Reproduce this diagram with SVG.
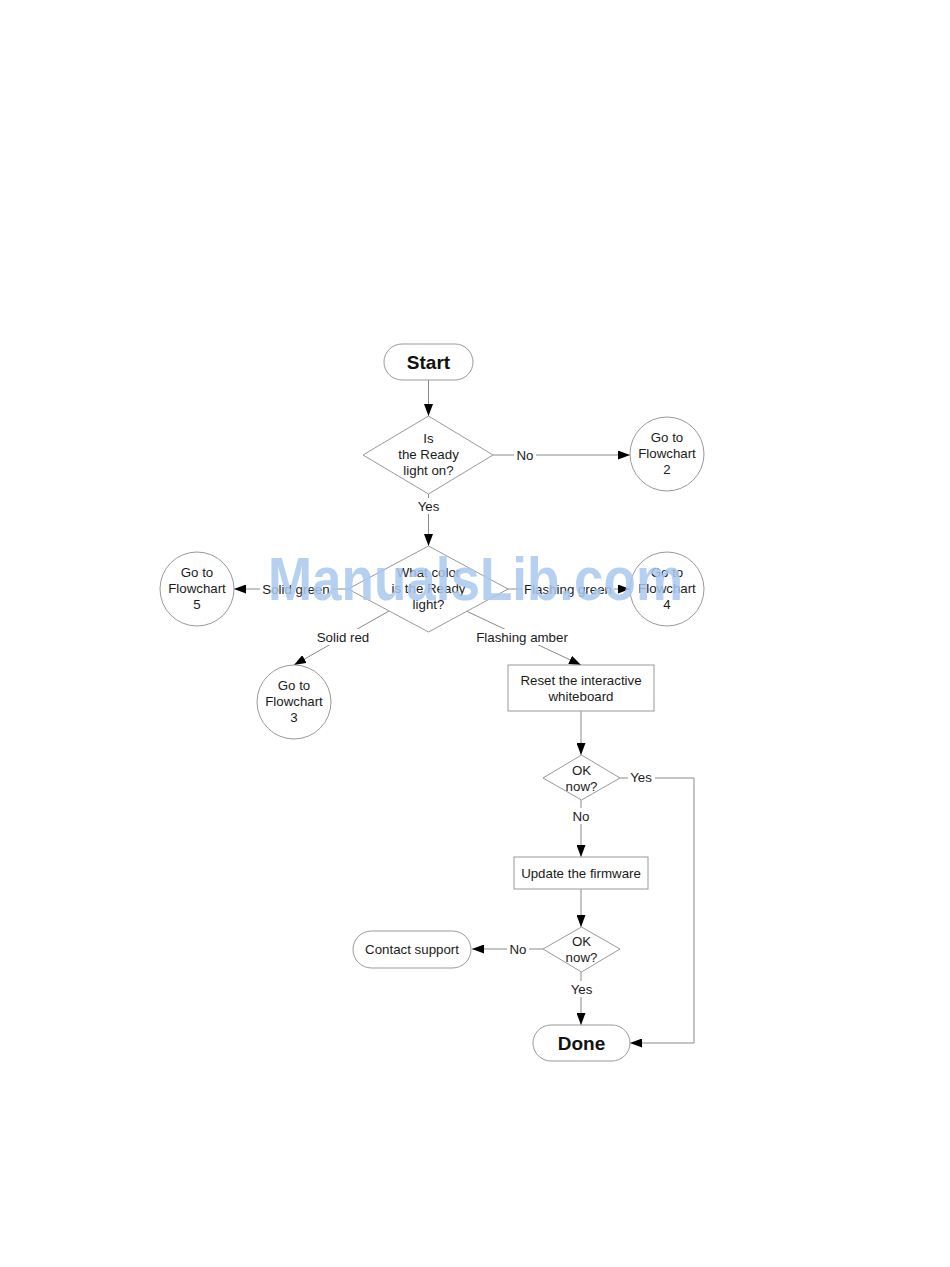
<svg xmlns="http://www.w3.org/2000/svg" width="950" height="1267" viewBox="0 0 950 1267">
<style>
.shape{fill:#fff;stroke:#999;stroke-width:1}
.conn{fill:none;stroke:#8a8a8a;stroke-width:1}
.t{font-family:"Liberation Sans",Arial,sans-serif;font-size:13.3px;fill:#1a1a1a;text-anchor:middle}
.b{font-family:"Liberation Sans",Arial,sans-serif;font-size:19px;font-weight:bold;fill:#111;text-anchor:middle}
.lbg{fill:#fff}
.wm{font-family:"Liberation Sans",Arial,sans-serif;font-size:62px;font-weight:bold;fill:#a9c8f0;fill-opacity:0.85}
</style>
<defs>
<marker id="ah" markerUnits="userSpaceOnUse" markerWidth="12" markerHeight="9" refX="12" refY="4.5" orient="auto">
<path d="M0,0 L12,4.5 L0,9 z" fill="#000"/>
</marker>
</defs>
<rect width="950" height="1267" fill="#fff"/>
<g id="connectors">
<line class="conn" x1="428.5" y1="380" x2="428.5" y2="416" marker-end="url(#ah)"/>
<line class="conn" x1="493" y1="455" x2="630" y2="455" marker-end="url(#ah)"/>
<line class="conn" x1="428.5" y1="494" x2="428.5" y2="546" marker-end="url(#ah)"/>
<line class="conn" x1="348" y1="589" x2="234" y2="589" marker-end="url(#ah)"/>
<line class="conn" x1="508" y1="589" x2="630" y2="589" marker-end="url(#ah)"/>
<line class="conn" x1="389" y1="611" x2="294" y2="665" marker-end="url(#ah)"/>
<line class="conn" x1="464" y1="610" x2="581" y2="665" marker-end="url(#ah)"/>
<line class="conn" x1="581" y1="711" x2="581" y2="755" marker-end="url(#ah)"/>
<polyline class="conn" points="620,778 694,778 694,1043 630,1043" marker-end="url(#ah)"/>
<line class="conn" x1="581" y1="800" x2="581" y2="857" marker-end="url(#ah)"/>
<line class="conn" x1="581" y1="889" x2="581" y2="927" marker-end="url(#ah)"/>
<line class="conn" x1="543" y1="949" x2="472" y2="949" marker-end="url(#ah)"/>
<line class="conn" x1="581" y1="972" x2="581" y2="1025" marker-end="url(#ah)"/>
<rect class="lbg" x="514" y="447" width="22" height="16"/>
<text class="t" x="525" y="459.5">No</text>
<rect class="lbg" x="415" y="498" width="27" height="16"/>
<text class="t" x="428.5" y="510.5">Yes</text>
<rect class="lbg" x="260" y="581" width="72" height="16"/>
<text class="t" x="296" y="593.5">Solid green</text>
<rect class="lbg" x="522" y="581" width="92" height="16"/>
<text class="t" x="568" y="593.5">Flashing green</text>
<rect class="lbg" x="315" y="629" width="56" height="16"/>
<text class="t" x="343" y="641.5">Solid red</text>
<rect class="lbg" x="474" y="629" width="96" height="16"/>
<text class="t" x="522" y="641.5">Flashing amber</text>
<rect class="lbg" x="628" y="770" width="27" height="16"/>
<text class="t" x="641" y="781.5">Yes</text>
<rect class="lbg" x="570" y="808" width="22" height="16"/>
<text class="t" x="581" y="820.5">No</text>
<rect class="lbg" x="507" y="941" width="22" height="16"/>
<text class="t" x="518" y="953.5">No</text>
<rect class="lbg" x="568" y="981" width="27" height="16"/>
<text class="t" x="581.5" y="993.5">Yes</text>
</g>
<g id="start">
<rect class="shape" x="384" y="344" width="89" height="36" rx="18" ry="18"/>
<text class="b" x="428.5" y="368.5">Start</text>
</g>
<g id="ready-on">
<polygon class="shape" points="428.5,416 493,455 428.5,494 363,455"/>
<text class="t" x="428.5" y="442.5">Is</text>
<text class="t" x="428.5" y="458.5">the Ready</text>
<text class="t" x="428.5" y="474.5">light on?</text>
</g>
<g id="flowchart2">
<circle class="shape" cx="667" cy="454" r="37"/>
<text class="t" x="667" y="442">Go to</text>
<text class="t" x="667" y="458">Flowchart</text>
<text class="t" x="667" y="474">2</text>
</g>
<g id="what-color">
<polygon class="shape" points="428.5,546 508,589 428.5,632 348,589"/>
<text class="t" x="428.5" y="576.5">What color</text>
<text class="t" x="428.5" y="592.5">is the Ready</text>
<text class="t" x="428.5" y="608.5">light?</text>
</g>
<g id="flowchart5">
<circle class="shape" cx="197" cy="589" r="37"/>
<text class="t" x="197" y="577">Go to</text>
<text class="t" x="197" y="593">Flowchart</text>
<text class="t" x="197" y="609">5</text>
</g>
<g id="flowchart4">
<circle class="shape" cx="667" cy="589" r="37"/>
<text class="t" x="667" y="577">Go to</text>
<text class="t" x="667" y="593">Flowchart</text>
<text class="t" x="667" y="609">4</text>
</g>
<g id="flowchart3">
<circle class="shape" cx="294" cy="702" r="37"/>
<text class="t" x="294" y="690">Go to</text>
<text class="t" x="294" y="706">Flowchart</text>
<text class="t" x="294" y="722">3</text>
</g>
<g id="reset">
<rect class="shape" x="508" y="665" width="146" height="46"/>
<text class="t" x="581" y="684.5">Reset the interactive</text>
<text class="t" x="581" y="700.5">whiteboard</text>
</g>
<g id="ok1">
<polygon class="shape" points="581.5,755 620,778 581.5,800 543,778"/>
<text class="t" x="581.5" y="774.5">OK</text>
<text class="t" x="581.5" y="790.5">now?</text>
</g>
<g id="update">
<rect class="shape" x="514" y="857" width="134" height="32"/>
<text class="t" x="581" y="877.5">Update the firmware</text>
</g>
<g id="ok2">
<polygon class="shape" points="581.5,927 620,949 581.5,972 543,949"/>
<text class="t" x="581.5" y="945.5">OK</text>
<text class="t" x="581.5" y="961.5">now?</text>
</g>
<g id="contact">
<rect class="shape" x="353" y="931" width="118" height="37" rx="18.5" ry="18.5"/>
<text class="t" x="412" y="953.5">Contact support</text>
</g>
<g id="done">
<rect class="shape" x="533" y="1025" width="97" height="36" rx="18" ry="18"/>
<text class="b" x="581.5" y="1049.5">Done</text>
</g>
<text class="wm" x="268" y="600" textLength="415" lengthAdjust="spacingAndGlyphs">ManualsLib.com</text>
</svg>
